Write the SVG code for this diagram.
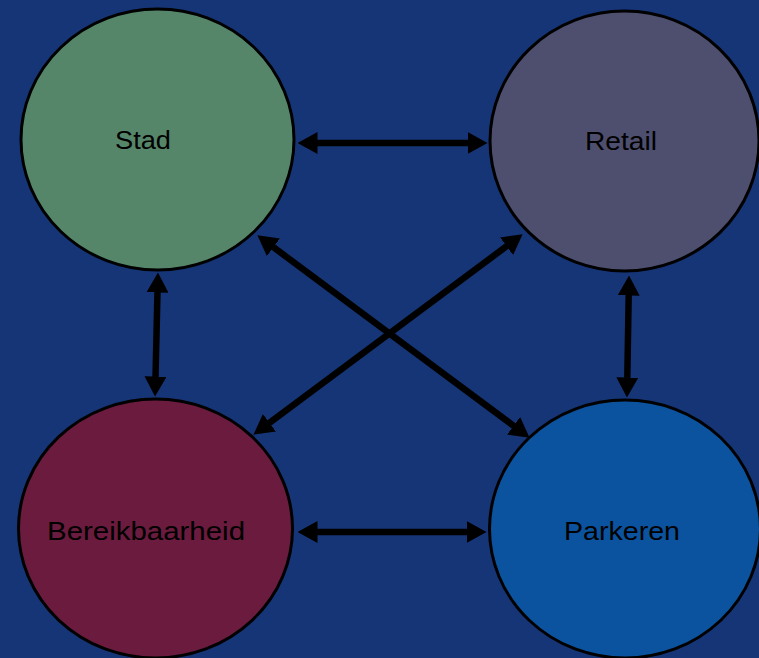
<svg xmlns="http://www.w3.org/2000/svg" width="759" height="658" viewBox="0 0 759 658">
<defs>
<style>
.node{stroke:#000;stroke-width:3}
.lbl{font-family:"Liberation Sans",Arial,sans-serif;font-size:26px;fill:#000;text-anchor:middle}
.conn{stroke:#000;stroke-width:6.5;fill:none;marker-start:url(#ah);marker-end:url(#ah)}
</style>
<marker id="ah" markerUnits="userSpaceOnUse" markerWidth="20" markerHeight="22" viewBox="0 0 20 22" refX="0.5" refY="11" orient="auto-start-reverse">
<path d="M0,0 L20,11 L0,22 z" fill="#000"/>
</marker>
</defs>
<rect width="759" height="658" fill="#163577"/>
<g id="stad">
<ellipse class="node" cx="157.5" cy="139.5" rx="136.5" ry="130.5" fill="#568669"/>
<text class="lbl" x="143" y="149" textLength="56" lengthAdjust="spacingAndGlyphs">Stad</text>
</g>
<g id="retail">
<ellipse class="node" cx="624.5" cy="141" rx="134.5" ry="130" fill="#4e4f6e"/>
<text class="lbl" x="621" y="150" textLength="72" lengthAdjust="spacingAndGlyphs">Retail</text>
</g>
<g id="bereikbaarheid">
<ellipse class="node" cx="155.5" cy="528.5" rx="137" ry="129.5" fill="#6a1b3e"/>
<text class="lbl" x="146" y="540" textLength="198" lengthAdjust="spacingAndGlyphs">Bereikbaarheid</text>
</g>
<g id="parkeren">
<ellipse class="node" cx="625" cy="529" rx="135.5" ry="129" fill="#0b539e"/>
<text class="lbl" x="622" y="540" textLength="116" lengthAdjust="spacingAndGlyphs">Parkeren</text>
</g>
<g id="connectors">
<line class="conn" x1="317" y1="143" x2="468" y2="143"/>
<line class="conn" x1="317" y1="532" x2="467" y2="532"/>
<line class="conn" x1="157.5" y1="292" x2="155.5" y2="377"/>
<line class="conn" x1="628.7" y1="295" x2="627.3" y2="378"/>
<line class="conn" x1="273.05" y1="246.93" x2="513.95" y2="426.07"/>
<line class="conn" x1="506.96" y1="245.94" x2="269.04" y2="423.06"/>
</g>
</svg>
